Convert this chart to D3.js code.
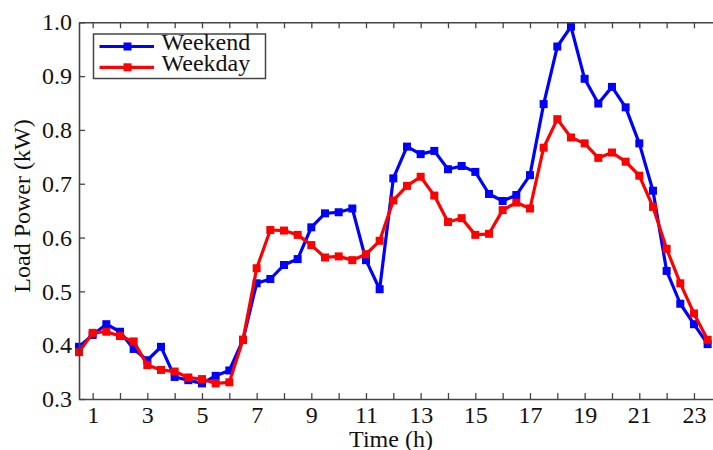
<!DOCTYPE html>
<html><head><meta charset="utf-8">
<script src="https://cdn.jsdelivr.net/npm/d3@7"></script>
<style>
html,body{margin:0;padding:0;background:#fff;}
svg{display:block;}
text{font-family:"Liberation Serif","Times New Roman",serif;fill:#111;}
</style></head>
<body>
<script>
const hours = [0.5,1,1.5,2,2.5,3,3.5,4,4.5,5,5.5,6,6.5,7,7.5,8,8.5,9,9.5,10,10.5,11,11.5,12,12.5,13,13.5,14,14.5,15,15.5,16,16.5,17,17.5,18,18.5,19,19.5,20,20.5,21,21.5,22,22.5,23,23.5];
const weekend = [0.397,0.419,0.439,0.425,0.393,0.372,0.397,0.341,0.335,0.329,0.343,0.353,0.410,0.515,0.523,0.549,0.560,0.619,0.645,0.647,0.654,0.558,0.504,0.710,0.769,0.755,0.761,0.727,0.733,0.722,0.681,0.668,0.679,0.716,0.848,0.955,0.992,0.895,0.849,0.880,0.842,0.775,0.687,0.538,0.477,0.439,0.402];
const weekday = [0.387,0.423,0.425,0.417,0.407,0.363,0.354,0.351,0.340,0.337,0.329,0.331,0.410,0.543,0.614,0.613,0.605,0.586,0.563,0.565,0.558,0.569,0.594,0.669,0.696,0.713,0.678,0.629,0.636,0.605,0.607,0.651,0.665,0.654,0.767,0.820,0.786,0.775,0.748,0.758,0.741,0.715,0.657,0.579,0.515,0.459,0.410];
const xTicks = [1,2,3,4,5,6,7,8,9,10,11,12,13,14,15,16,17,18,19,20,21,22,23];
const yTicks = [0.3,0.4,0.5,0.6,0.7,0.8,0.9,1.0];
const seriesNames = ["Weekend","Weekday"];
const seriesColors = ["#0000ff","#ff0000"];

const W = 713, H = 450, FS = 24;
const svg = d3.select("body").append("svg").attr("width", W).attr("height", H);
const x = d3.scaleLinear().domain([0.5, 24]).range([79, 721.3]);
const y = d3.scaleLinear().domain([0.3, 1.0]).range([399, 22.3]);
const axisColor = "#444";

// lines
const line = d3.line().x((d,i)=>x(hours[i])).y(d=>y(d));
[weekend, weekday].forEach((s, k) => {
  svg.append("path").datum(s).attr("d", line)
    .attr("fill","none").attr("stroke", seriesColors[k]).attr("stroke-width",3.2).attr("stroke-linejoin","round");
  svg.selectAll(null).data(s).enter().append("rect")
    .attr("x",(d,i)=>x(hours[i])-4).attr("y",d=>y(d)-4)
    .attr("width",8).attr("height",8).attr("fill",seriesColors[k]);
});

// axes
function styleAxis(g){
  g.select(".domain").attr("stroke",axisColor).attr("stroke-width",1.6);
  g.selectAll(".tick line").attr("stroke",axisColor).attr("stroke-width",1.3);
  g.selectAll("text").attr("font-size",FS).attr("font-family","Liberation Serif").attr("fill","#111");
}
svg.append("g").attr("transform",`translate(0,${y(0.3)})`)
  .call(d3.axisBottom(x).tickValues(xTicks).tickSizeInner(-6).tickSizeOuter(0).tickPadding(6.5)
    .tickFormat(d => d % 2 === 1 ? d : ""))
  .call(styleAxis);
svg.append("g").attr("transform",`translate(0,${y(1.0)})`)
  .call(d3.axisTop(x).tickValues(xTicks).tickSizeInner(-6).tickSizeOuter(0).tickFormat(""))
  .call(styleAxis);
svg.append("g").attr("transform",`translate(${x(0.5)},0)`)
  .call(d3.axisLeft(y).tickValues(yTicks).tickSizeInner(-6).tickSizeOuter(0).tickPadding(7)
    .tickFormat(d3.format(".1f")))
  .call(styleAxis);
svg.append("g").attr("transform",`translate(${x(24)},0)`)
  .call(d3.axisRight(y).tickValues(yTicks).tickSizeInner(-6).tickSizeOuter(0).tickFormat(""))
  .call(styleAxis);

// axis titles
svg.append("text").attr("x",391).attr("y",446.5).attr("text-anchor","middle")
  .attr("font-size",FS).text("Time (h)");
svg.append("text").attr("transform","translate(30,206) rotate(-90)").attr("text-anchor","middle")
  .attr("font-size",FS).text("Load Power (kW)");

// legend
const lg = svg.append("g");
lg.append("rect").attr("x",93.5).attr("y",34).attr("width",172).attr("height",44.5)
  .attr("fill","#fff").attr("stroke",axisColor).attr("stroke-width",1.5);
const legY = [46.5, 67.3];
const legBase = [50, 71];
seriesNames.forEach((n,k)=>{
  lg.append("line").attr("x1",99.5).attr("x2",154).attr("y1",legY[k]).attr("y2",legY[k])
    .attr("stroke",seriesColors[k]).attr("stroke-width",3.2);
  lg.append("rect").attr("x",127.5-4).attr("y",legY[k]-4).attr("width",8).attr("height",8).attr("fill",seriesColors[k]);
  lg.append("text").attr("x",161.5).attr("y",legBase[k]).attr("font-size",FS).text(n);
});
</script>
</body></html>
